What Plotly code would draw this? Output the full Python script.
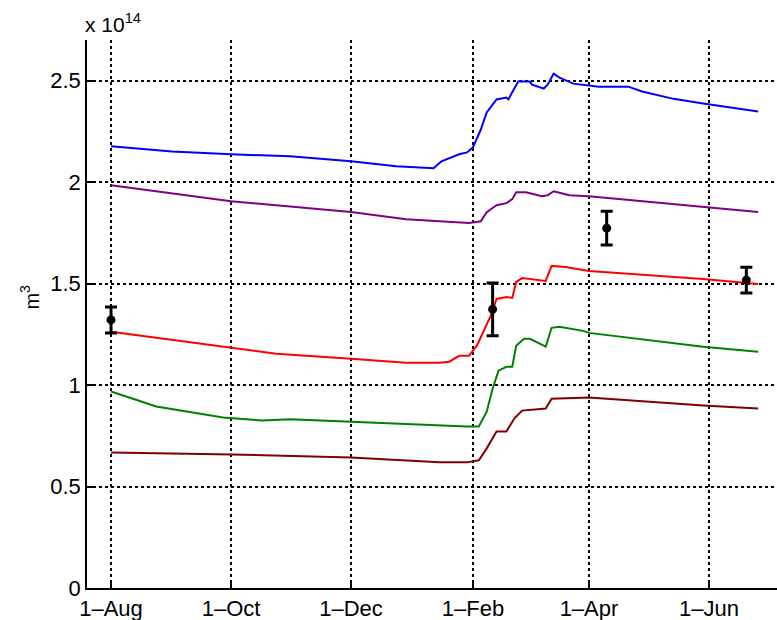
import plotly.graph_objects as go

# ---- data (values in units of 1e14 m^3) ----
blue_dates = ["2010-08-01", "2010-09-01", "2010-10-01", "2010-10-31", "2010-12-01", "2010-12-24",
              "2011-01-12", "2011-01-16", "2011-01-25", "2011-01-29", "2011-02-01", "2011-02-05",
              "2011-02-08", "2011-02-13", "2011-02-18", "2011-02-19", "2011-02-24", "2011-03-02",
              "2011-03-03", "2011-03-09", "2011-03-11", "2011-03-14", "2011-03-17", "2011-03-24",
              "2011-04-06", "2011-04-21", "2011-04-28", "2011-05-14", "2011-05-29", "2011-06-26"]
blue_vals = [2.176, 2.151, 2.137, 2.127, 2.102, 2.078,
             2.068, 2.102, 2.137, 2.146, 2.171, 2.259,
             2.343, 2.407, 2.416, 2.407, 2.495, 2.495,
             2.480, 2.461, 2.480, 2.534, 2.515, 2.485,
             2.470, 2.470, 2.446, 2.410, 2.387, 2.348]

purple_dates = ["2010-08-01", "2010-10-01", "2010-12-01", "2010-12-29", "2011-01-15", "2011-01-30",
                "2011-02-05", "2011-02-08", "2011-02-13", "2011-02-18", "2011-02-21", "2011-02-23",
                "2011-02-28", "2011-03-08", "2011-03-11", "2011-03-14", "2011-03-16", "2011-03-22",
                "2011-04-01", "2011-05-29", "2011-06-26"]
purple_vals = [1.984, 1.906, 1.852, 1.817, 1.807, 1.798,
               1.807, 1.852, 1.886, 1.896, 1.916, 1.950,
               1.950, 1.930, 1.935, 1.955, 1.950, 1.935,
               1.930, 1.876, 1.852]

red_dates = ["2010-08-01", "2010-10-01", "2010-10-24", "2010-12-01", "2010-12-29", "2011-01-15",
             "2011-01-20", "2011-01-25", "2011-01-30", "2011-02-03", "2011-02-10", "2011-02-13",
             "2011-02-18", "2011-02-21", "2011-02-23", "2011-02-26", "2011-03-10", "2011-03-13",
             "2011-03-20", "2011-04-01", "2011-05-29", "2011-06-26"]
red_vals = [1.262, 1.184, 1.154, 1.130, 1.110, 1.110,
            1.115, 1.144, 1.144, 1.194, 1.341, 1.424,
            1.434, 1.429, 1.508, 1.527, 1.513, 1.587,
            1.582, 1.562, 1.523, 1.498]

green_dates = ["2010-08-01", "2010-08-24", "2010-09-27", "2010-10-17", "2010-10-31", "2010-12-01",
               "2011-01-15", "2011-01-29", "2011-02-04", "2011-02-08", "2011-02-11", "2011-02-14",
               "2011-02-18", "2011-02-21", "2011-02-23", "2011-02-27", "2011-03-02", "2011-03-10",
               "2011-03-13", "2011-03-17", "2011-03-29", "2011-04-01", "2011-05-29", "2011-06-26"]
green_vals = [0.968, 0.894, 0.840, 0.825, 0.832, 0.820,
              0.800, 0.796, 0.796, 0.869, 0.982, 1.071,
              1.090, 1.090, 1.194, 1.228, 1.228, 1.189,
              1.282, 1.287, 1.267, 1.257, 1.189, 1.164]

darkred_dates = ["2010-08-01", "2010-10-01", "2010-12-01", "2011-01-15", "2011-01-29", "2011-02-04",
                 "2011-02-08", "2011-02-13", "2011-02-18", "2011-02-22", "2011-02-26", "2011-03-10",
                 "2011-03-13", "2011-03-24", "2011-04-01", "2011-05-29", "2011-06-26"]
darkred_vals = [0.668, 0.658, 0.643, 0.619, 0.619, 0.629,
                0.688, 0.771, 0.771, 0.835, 0.874, 0.884,
                0.933, 0.938, 0.938, 0.899, 0.884]

obs_dates = ["2010-08-01", "2011-02-11", "2011-04-10", "2011-06-20"]
obs_vals = [1.321, 1.373, 1.773, 1.517]
obs_err = [0.064, 0.130, 0.083, 0.063]

tick_dates = ["2010-08-01", "2010-10-01", "2010-12-01", "2011-02-01", "2011-04-01", "2011-06-01"]
tick_labels = ["1\u2013Aug", "1\u2013Oct", "1\u2013Dec", "1\u2013Feb", "1\u2013Apr", "1\u2013Jun"]
ytick_vals = [0, 0.5, 1, 1.5, 2, 2.5]
ytick_labels = ["0", "0.5", "1", "1.5", "2", "2.5"]

FONT = "Liberation Sans, Arial, Helvetica, sans-serif"

fig = go.Figure()
series = [
    (blue_dates, blue_vals, "#0000ff"),
    (purple_dates, purple_vals, "#800080"),
    (red_dates, red_vals, "#ff0000"),
    (green_dates, green_vals, "#008000"),
    (darkred_dates, darkred_vals, "#800000"),
]
for d, v, c in series:
    fig.add_trace(go.Scatter(x=d, y=v, mode="lines", line=dict(color=c, width=2),
                             showlegend=False, hoverinfo="skip"))

fig.add_trace(go.Scatter(
    x=obs_dates, y=obs_vals, mode="markers",
    marker=dict(color="black", size=9),
    error_y=dict(type="data", array=obs_err, color="black", thickness=3, width=6),
    showlegend=False,
))

fig.update_layout(
    width=777, height=620,
    margin=dict(l=87, r=0, t=40, b=32),
    paper_bgcolor="white", plot_bgcolor="white",
    font=dict(family=FONT, size=22, color="black"),
    xaxis=dict(
        type="date",
        range=["2010-07-19 19:00", "2011-07-05 14:00"],
        tickvals=tick_dates, ticktext=tick_labels,
        showgrid=True, gridcolor="black", griddash="dot", gridwidth=1.5,
        showline=True, linecolor="black", linewidth=1.5,
        ticks="inside", ticklen=6, tickcolor="black", tickwidth=1.5,
        zeroline=False, tickfont=dict(size=22),
    ),
    yaxis=dict(
        range=[0, 2.7],
        tickvals=ytick_vals, ticktext=ytick_labels,
        showgrid=True, gridcolor="black", griddash="dot", gridwidth=1.5,
        showline=True, linecolor="black", linewidth=1.5,
        ticks="inside", ticklen=6, tickcolor="black", tickwidth=1.5,
        zeroline=False, tickfont=dict(size=22),
    ),
    annotations=[
        dict(text="x 10<sup>14</sup>", xref="paper", yref="paper", x=0.0, y=1.0,
             xanchor="left", yanchor="bottom", showarrow=False, xshift=-4, yshift=2,
             font=dict(size=21)),
        dict(text="m<sup>3</sup>", xref="paper", yref="paper", x=0.0, y=0.53,
             xanchor="center", yanchor="middle", showarrow=False, xshift=-57,
             textangle=-90, font=dict(size=20)),
    ],
)

fig.write_html("out.html")
